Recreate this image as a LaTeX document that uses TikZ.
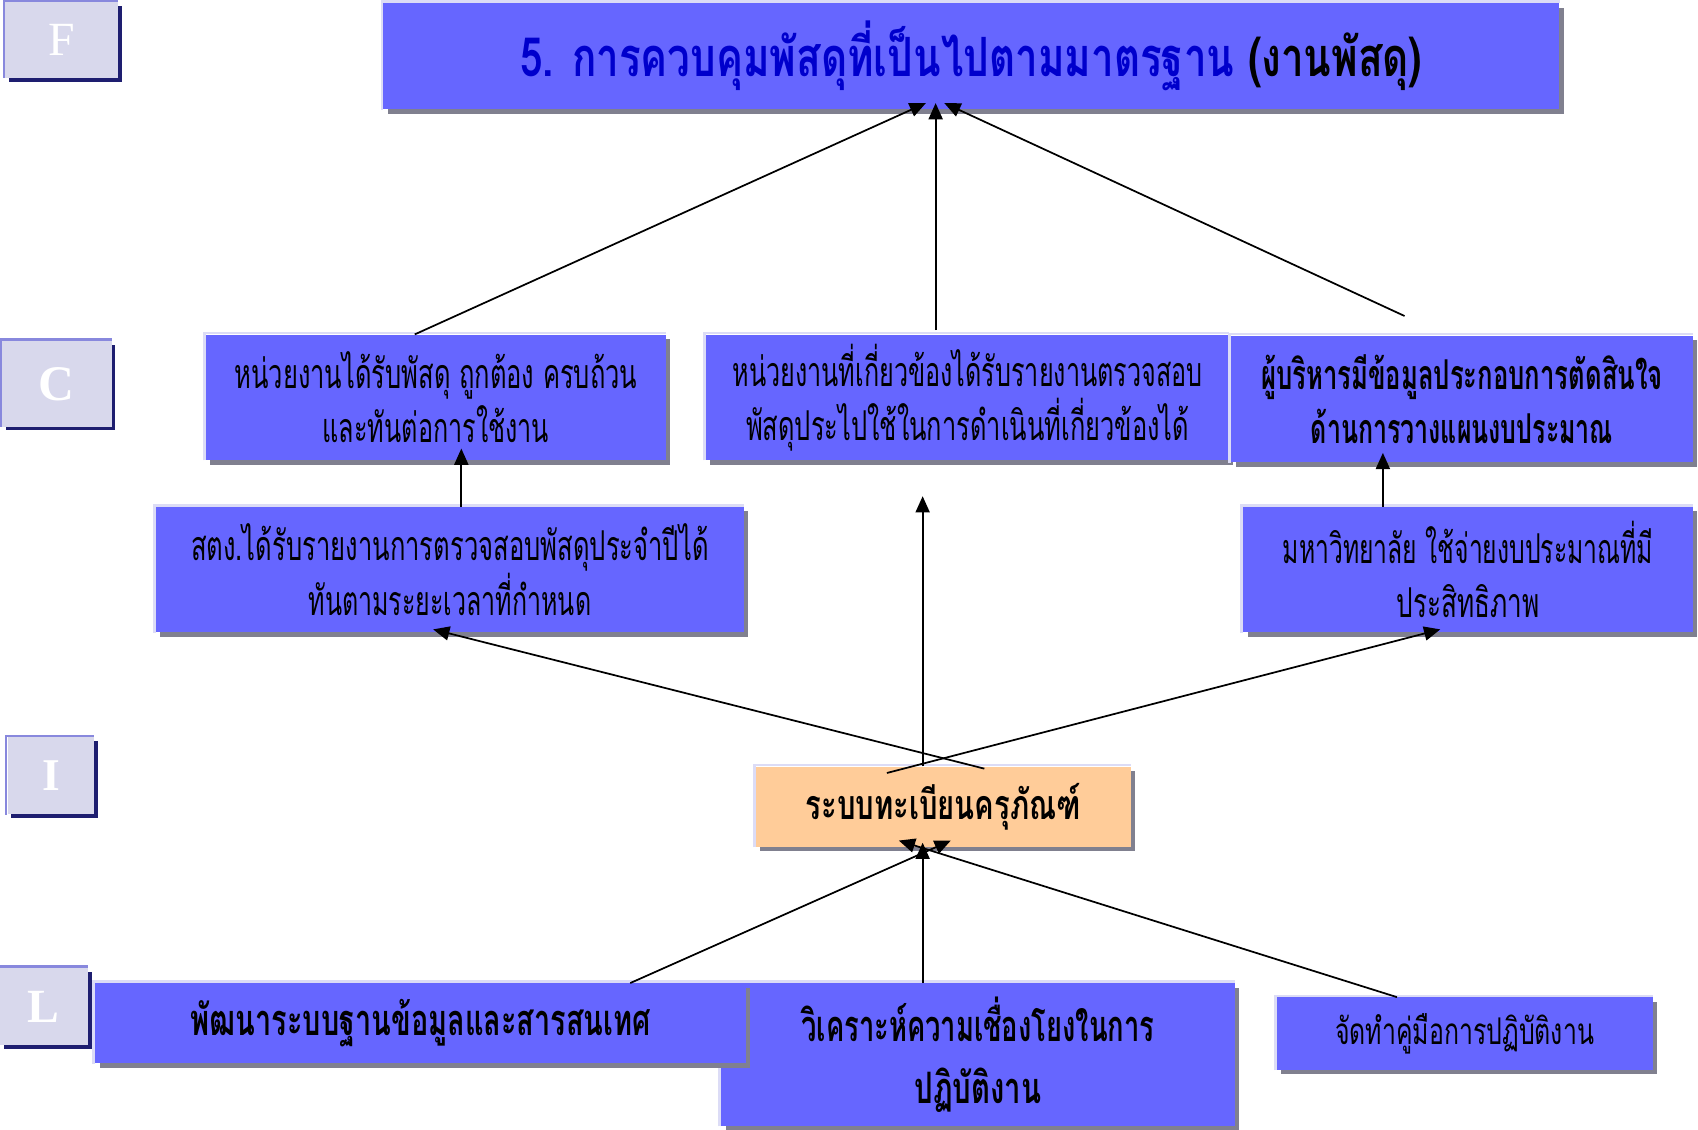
\documentclass[tikz,border=0pt]{standalone}
\usepackage{fontspec}
\usepackage{graphicx}
\usetikzlibrary{arrows.meta,shadows}
\newfontfamily\thai[Script=Thai]{Loma}
\newfontfamily\lblfont{Liberation Serif}
\definecolor{boxblue}{HTML}{6666FF}
\definecolor{boxshadow}{HTML}{80808F}
\definecolor{boxhl}{HTML}{DCDCF6}
\definecolor{peach}{HTML}{FFCC99}
\definecolor{lblfill}{HTML}{D8D8EC}
\definecolor{lblshadow}{HTML}{1E1E70}
\definecolor{lblhl}{HTML}{8888DD}
\definecolor{titleblue}{HTML}{0000CC}
\newcommand\fitw[2]{\resizebox{#1}{\height}{#2}}
\newcommand\hilite[2]{\draw[#1] ([xshift=-1.2pt]#2.south west) -- ([xshift=-1.2pt,yshift=1.2pt]#2.north west) -- ([yshift=1.2pt]#2.north east);}
\tikzset{
  box/.style={rectangle, fill=boxblue, inner sep=0pt, align=center,
    font=\thai\fontsize{38}{50}\selectfont,
    drop shadow={shadow xshift=4pt, shadow yshift=-4pt, fill=boxshadow, opacity=1}},
  lblbox/.style={rectangle, fill=lblfill, inner sep=0pt, text=white,
    drop shadow={shadow xshift=3.5pt, shadow yshift=-3.5pt, fill=lblshadow, opacity=1}},
  hl/.style={line width=2.4pt, boxhl},
  lblhlline/.style={line width=2.4pt, lblhl},
  conn/.style={-{Triangle[length=15pt,width=13pt]}, line width=1.6pt, black},
}
\begin{document}
\begin{tikzpicture}[x=1pt,y=-1pt]
\useasboundingbox (0,0) rectangle (1568,1043);
\fill[white] (0,0) rectangle (1568,1043);

% level labels
\node[lblbox, minimum width=104pt, minimum height=70pt] (lf) at (57,37) {\lblfont\fontsize{44}{44}\selectfont F};
\node[lblbox, minimum width=101pt, minimum height=79pt] (lc) at (52.5,354.5) {\lblfont\bfseries\fontsize{46}{46}\selectfont C};
\node[lblbox, minimum width=80pt, minimum height=71pt] (li) at (47,716.5) {\lblfont\bfseries\fontsize{42}{42}\selectfont I};
\node[lblbox, minimum width=81pt, minimum height=71pt] (ll) at (40.5,929.5) {\lblfont\bfseries\fontsize{44}{44}\selectfont L};
\foreach \n in {lf,lc,li,ll}{\hilite{lblhlline}{\n}}

% title
\node[box, minimum width=1086pt, minimum height=98pt, font=\thai\bfseries\fontsize{50}{60}\selectfont] (title) at (897,52)
  {\fitw{833pt}{\color{titleblue}5. การควบคุมพัสดุที่เป็นไปตามมาตรฐาน \color{black}(งานพัสดุ)}};

% C row
\node[box, minimum width=425pt, minimum height=116pt] (c1) at (402.5,367)
  {\fitw{372pt}{หน่วยงานได้รับพัสดุ ถูกต้อง ครบถ้วน}\\\fitw{209pt}{และทันต่อการใช้งาน}};
\node[box, minimum width=483pt, minimum height=116pt] (c2) at (893.5,367)
  {\fitw{434pt}{หน่วยงานที่เกี่ยวข้องได้รับรายงานตรวจสอบ}\\\fitw{409pt}{พัสดุประไปใช้ในการดำเนินที่เกี่ยวข้องได้}};
\node[box, minimum width=426pt, minimum height=117pt, font=\thai\bfseries\fontsize{38}{50}\selectfont] (c3) at (1350,368.5)
  {\fitw{371pt}{ผู้บริหารมีข้อมูลประกอบการตัดสินใจ}\\\fitw{279pt}{ด้านการวางแผนงบประมาณ}};

% middle row
\node[box, minimum width=543pt, minimum height=116pt] (m1) at (415.5,526)
  {\fitw{478pt}{สตง.ได้รับรายงานการตรวจสอบพัสดุประจำปีได้}\\\fitw{261pt}{ทันตามระยะเวลาที่กำหนด}};
\node[box, minimum width=415pt, minimum height=116pt] (m3) at (1355.5,526)
  {\fitw{342pt}{มหาวิทยาลัย ใช้จ่ายงบประมาณที่มี}\\\fitw{132pt}{ประสิทธิภาพ}};

% I
\node[box, fill=peach, minimum width=346pt, minimum height=74pt, font=\thai\bfseries\fontsize{38}{50}\selectfont] (ib) at (871,745)
  {\fitw{254pt}{ระบบทะเบียนครุภัณฑ์}};

% L row
\node[box, minimum width=474pt, minimum height=132pt, font=\thai\bfseries\fontsize{40}{58}\selectfont] (l2) at (903,974)
  {\fitw{326pt}{วิเคราะห์ความเชื่องโยงในการ}\\\fitw{117pt}{ปฏิบัติงาน}};
\hilite{hl}{l2}
\node[box, minimum width=601pt, minimum height=74pt, font=\thai\bfseries\fontsize{40}{50}\selectfont] (l1) at (388.5,945)
  {\fitw{425pt}{พัฒนาระบบฐานข้อมูลและสารสนเทศ}};
\node[box, minimum width=347pt, minimum height=67pt, font=\thai\fontsize{34}{44}\selectfont] (l3) at (1352.5,954.5)
  {\fitw{239pt}{จัดทำคู่มือการปฏิบัติงาน}};

\foreach \n in {title,c1,c2,c3,m1,m3,ib,l1,l3}{\hilite{hl}{\n}}

% connectors
\draw[conn] ([xshift=-19.5pt]c1.north) -- ([xshift=-42pt,yshift=6pt]title.south);
\draw[conn] ([xshift=-29.5pt,yshift=4pt]c2.north) -- ([xshift=-33pt,yshift=6pt]title.south);
\draw[conn] ([xshift=-53pt,yshift=18pt]c3.north) -- ([xshift=-25pt,yshift=6pt]title.south);
\draw[conn] ([xshift=10.5pt]m1.north) -- ([xshift=23.5pt,yshift=11pt]c1.south);
\draw[conn] ([xshift=-78.5pt]m3.north) -- ([xshift=-73pt,yshift=9pt]c3.south);
\draw[conn] ([xshift=38pt,yshift=-2pt]ib.north) -- ([xshift=-15.5pt,yshift=3pt]m1.south);
\draw[conn] ([xshift=-52pt,yshift=-6pt]ib.north) -- ([xshift=-25.5pt,yshift=3pt]m3.south);
\draw[conn] ([xshift=-19pt]ib.north) -- ([xshift=-41.5pt,yshift=-33pt]c2.south);
\draw[conn] ([xshift=193.5pt]l1.north) -- ([xshift=7pt,yshift=6pt]ib.south);
\draw[conn] ([xshift=-51pt]l2.north) -- ([xshift=-19pt,yshift=4pt]ib.south);
\draw[conn] ([xshift=-62.5pt]l3.north) -- ([xshift=-41pt,yshift=6pt]ib.south);
\end{tikzpicture}
\end{document}
